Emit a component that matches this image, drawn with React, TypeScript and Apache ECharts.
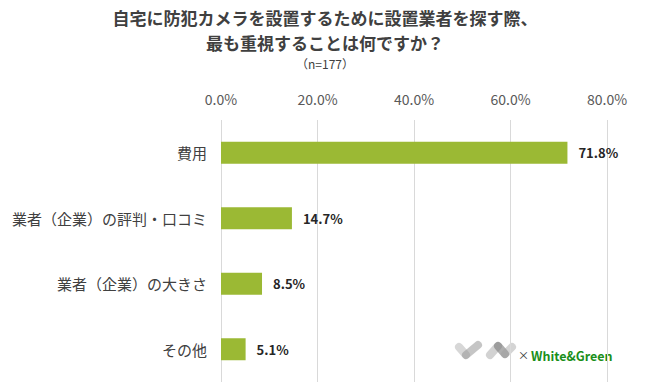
import React, { useEffect, useRef } from "react";
import * as echarts from "echarts";

const categories = ["費用", "業者（企業）の評判・口コミ", "業者（企業）の大きさ", "その他"];
const values = [71.8, 14.7, 8.5, 5.1];
const titleLines = ["自宅に防犯カメラを設置するために設置業者を探す際、", "最も重視することは何ですか？"];
const subtitle = "（n=177）";

const FONT = "'Noto Sans CJK JP', 'Noto Sans', sans-serif";

export default function App() {
  const ref = useRef<HTMLDivElement>(null);
  useEffect(() => {
    document.body.style.margin = "0";
    const chart = echarts.init(ref.current!, null, { renderer: "svg" });
    const seg = (x1: number, y1: number, x2: number, y2: number, c: string) => ({
      type: "line",
      shape: { x1, y1, x2, y2 },
      style: { stroke: c, lineWidth: 8, lineCap: "round" },
    });
    chart.setOption({
      animation: false,
      backgroundColor: "#ffffff",
      textStyle: { fontFamily: FONT },
      grid: { left: 221, right: 43, top: 120, bottom: 6 },
      xAxis: {
        type: "value",
        position: "top",
        min: 0,
        max: 80,
        interval: 20,
        axisLine: { show: false },
        axisTick: { show: false },
        axisLabel: {
          formatter: (v: number) => v.toFixed(1) + "%",
          fontSize: 14,
          color: "#595959",
          margin: 14,
          fontFamily: FONT,
        },
        splitLine: { lineStyle: { color: "#d9d9d9", width: 1 } },
      },
      yAxis: {
        type: "category",
        inverse: true,
        data: categories,
        axisLine: { show: false },
        axisTick: { show: false },
        axisLabel: { fontSize: 15, color: "#404040", margin: 14, fontFamily: FONT },
      },
      series: [
        {
          type: "bar",
          data: values,
          barWidth: 22,
          itemStyle: { color: "#9BB934" },
          label: {
            show: true,
            position: "right",
            distance: 11,
            formatter: (p: any) => p.value.toFixed(1) + "%",
            fontSize: 13,
            fontWeight: "bold",
            color: "#262626",
            fontFamily: FONT,
          },
        },
      ],
      graphic: [
        {
          type: "text",
          x: 325,
          y: 17,
          style: {
            text: titleLines[0],
            fontSize: 17,
            fontWeight: "bold",
            fill: "#404040",
            align: "center",
            verticalAlign: "middle",
            fontFamily: FONT,
          },
        },
        {
          type: "text",
          x: 325,
          y: 42,
          style: {
            text: titleLines[1],
            fontSize: 17,
            fontWeight: "bold",
            fill: "#404040",
            align: "center",
            verticalAlign: "middle",
            fontFamily: FONT,
          },
        },
        {
          type: "text",
          x: 325,
          y: 63,
          style: {
            text: subtitle,
            fontSize: 12,
            fill: "#404040",
            align: "center",
            verticalAlign: "middle",
            fontFamily: FONT,
          },
        },
        seg(459, 347, 466, 355, "rgba(175,175,175,0.5)"),
        seg(466, 355, 478, 345, "rgba(150,150,150,0.55)"),
        seg(490, 355, 498, 346, "rgba(165,165,165,0.5)"),
        seg(498, 346, 505, 354, "rgba(120,120,120,0.6)"),
        seg(505, 354, 512, 347, "rgba(160,160,160,0.45)"),
        {
          type: "text",
          x: 518,
          y: 355,
          style: { text: "×", fontSize: 11, fill: "#333333", verticalAlign: "middle", fontFamily: FONT },
        },
        {
          type: "text",
          x: 531,
          y: 355,
          style: {
            text: "White&Green",
            fontSize: 12.5,
            fontWeight: "bold",
            fill: "#1a8f1a",
            verticalAlign: "middle",
            fontFamily: FONT,
          },
        },
      ],
    });
    return () => chart.dispose();
  }, []);
  return <div ref={ref} style={{ width: 650, height: 388 }} />;
}
